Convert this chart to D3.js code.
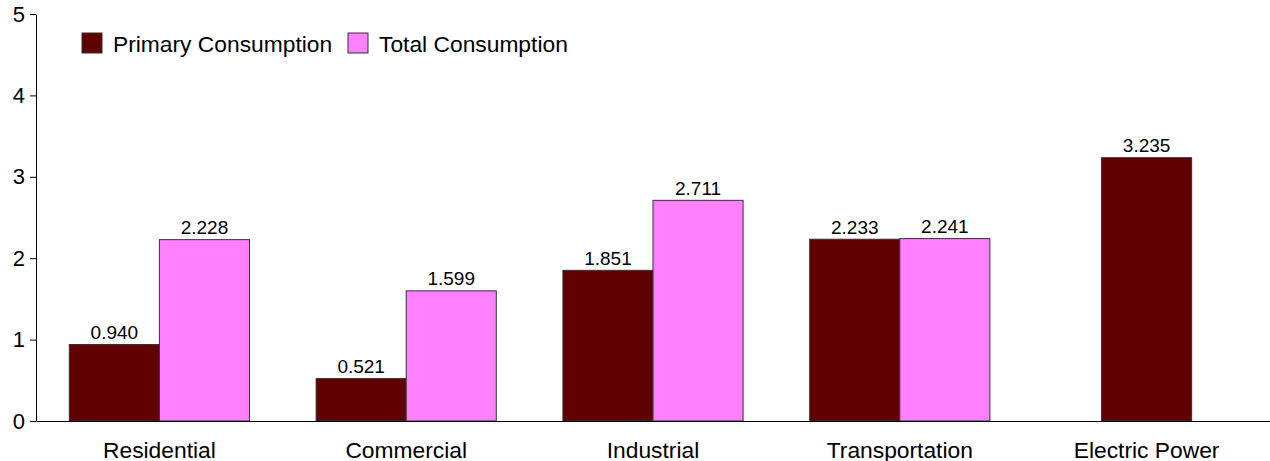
<!DOCTYPE html>
<html>
<head>
<meta charset="utf-8">
<script src="https://cdn.jsdelivr.net/npm/d3@7"></script>
<style>
  html, body { margin: 0; padding: 0; background: #fff; }
  svg { display: block; font-family: "Liberation Sans", Arial, sans-serif; }
</style>
</head>
<body>
<svg id="chart" width="1270" height="461"></svg>
<script>
const categories = ["Residential", "Commercial", "Industrial", "Transportation", "Electric Power"];
const seriesNames = ["Primary Consumption", "Total Consumption"];
const primaryValues = [0.940, 0.521, 1.851, 2.233, 3.235];
const totalValues = [2.228, 1.599, 2.711, 2.241, null];
const yTicks = [0, 1, 2, 3, 4, 5];
const colors = ["#600000", "#ff80ff"];

(function () {
const svg = d3.select("#chart");
const mLeft = 36, mRight = 1270, mTop = 14, mBottom = 421;
const ff = "Liberation Sans, Arial, sans-serif";

const y = d3.scaleLinear().domain([0, 5]).range([mBottom, mTop]);
const x0 = d3.scaleBand().domain(categories).range([mLeft, mRight]).paddingInner(0.27).paddingOuter(0.135);
const x1 = d3.scaleBand().domain(seriesNames).range([0, x0.bandwidth()]);

const data = categories.map((c, i) => {
  const vals = [primaryValues[i], totalValues[i]];
  const present = seriesNames.map((s, j) => ({ series: s, j, value: vals[j] })).filter(d => d.value !== null);
  return { category: c, bars: present };
});

const groups = svg.append("g").selectAll("g").data(data).join("g")
  .attr("transform", d => `translate(${x0(d.category)},0)`);

groups.each(function(d) {
  const g = d3.select(this);
  const n = d.bars.length;
  const bw = x1.bandwidth();
  const offset = (x0.bandwidth() - n * bw) / 2;
  d.bars.forEach((b, k) => {
    const bx = n === seriesNames.length ? x1(b.series) : offset + k * bw;
    g.append("rect")
      .attr("x", bx)
      .attr("y", y(b.value))
      .attr("width", bw)
      .attr("height", y(0) - y(b.value))
      .attr("fill", colors[b.j])
      .attr("stroke", "#333")
      .attr("stroke-width", 1);
    g.append("text")
      .attr("x", bx + bw / 2)
      .attr("y", y(b.value) - 5.5)
      .attr("text-anchor", "middle")
      .attr("font-size", 19)
      .attr("fill", "#000")
      .text(d3.format(".3f")(b.value));
  });
});

const yAxis = d3.axisLeft(y).tickValues(yTicks).tickSize(6).tickSizeOuter(0).tickFormat(d3.format("d"));
const yg = svg.append("g").attr("transform", `translate(${mLeft},0)`).call(yAxis);
yg.select(".domain").attr("stroke", "#000");
yg.selectAll(".tick line").attr("stroke", "#000");
yg.selectAll(".tick text").attr("font-size", 22).attr("font-family", ff).attr("fill", "#000").attr("x", -11);

const xAxis = d3.axisBottom(x0).tickSize(0).tickSizeOuter(0);
const xg = svg.append("g").attr("transform", `translate(0,${mBottom})`).call(xAxis);
xg.select(".domain").attr("stroke", "#000");
xg.selectAll(".tick text").attr("font-size", 22.8).attr("font-family", ff).attr("fill", "#000").attr("y", 36.5).attr("dy", 0);

const legendX = [82, 348];
const lg = svg.append("g").selectAll("g").data(seriesNames).join("g")
  .attr("transform", (d, i) => `translate(${legendX[i]},33)`);
lg.append("rect").attr("width", 20).attr("height", 20)
  .attr("fill", (d, i) => colors[i]).attr("stroke", "#333");
lg.append("text").attr("x", 31).attr("y", 19).attr("font-size", 22.8).attr("fill", "#000").text(d => d);
})();
</script>
</body>
</html>
